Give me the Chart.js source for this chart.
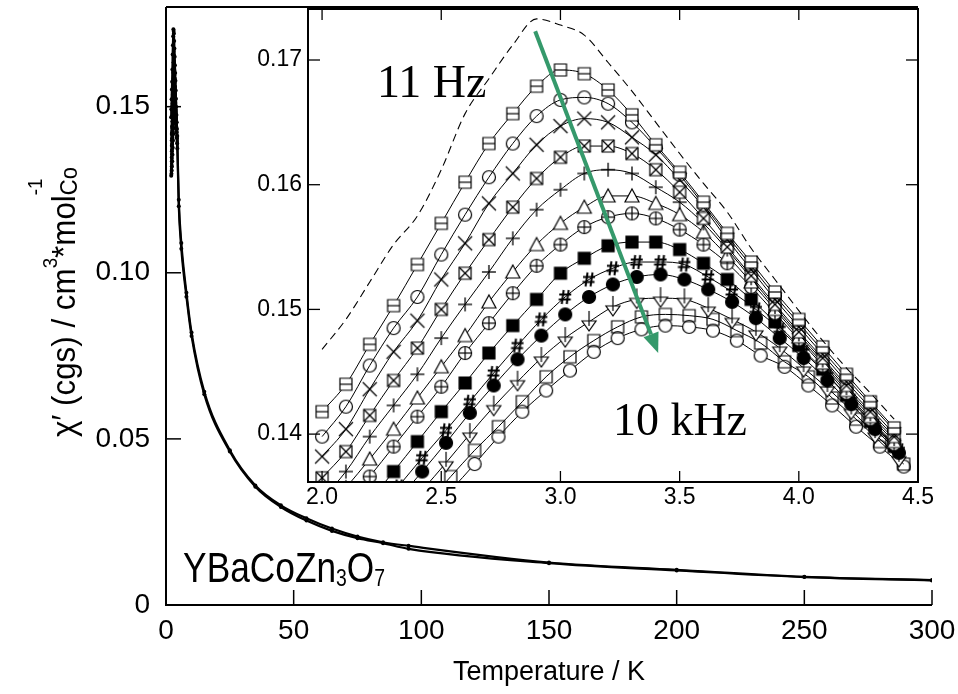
<!DOCTYPE html>
<html lang="en">
<head>
<meta charset="UTF-8" />
<title>YBaCoZn3O7 - chi' vs T</title>
<script src="https://cdn.jsdelivr.net/npm/chart.js"></script>
<style>
    body {
        margin: 0;
        background: #fff;
    }

    .wrap {
        position: relative;
        width: 958px;
        height: 694px;
    }

    #main {
        position: absolute;
        left: 0;
        top: 0;
    }

    #inset {
        position: absolute;
        left: 230px;
        top: 0;
    }
</style>
</head>
<body>
<div class="wrap">
    <canvas id="main" width="958" height="694"></canvas>
    <canvas id="inset" width="720" height="530"></canvas>
</div>

<script>
    // temperatures of the inset (K); the lower curves were taken a bit later
    const tInset  = [2.0, 2.1, 2.2, 2.3, 2.4, 2.5, 2.6, 2.7, 2.8, 2.9, 3.0, 3.1, 3.2, 3.3, 3.4, 3.5, 3.6, 3.7, 3.8, 3.9, 4.0, 4.1, 4.2, 4.3, 4.4];
    const tInsetB = [2.02, 2.12, 2.22, 2.32, 2.42, 2.52, 2.62, 2.72, 2.82, 2.92, 3.02, 3.12, 3.22, 3.32, 3.42, 3.52, 3.62, 3.72, 3.82, 3.92, 4.02, 4.12, 4.22, 4.32, 4.42];
    const tInsetC = [2.04, 2.14, 2.24, 2.34, 2.44, 2.54, 2.64, 2.74, 2.84, 2.94, 3.04, 3.14, 3.24, 3.34, 3.44, 3.54, 3.64, 3.74, 3.84, 3.94, 4.04, 4.14, 4.24, 4.34, 4.44];

    // chi' (cgs) per frequency, from 11 Hz (top) to 10 kHz (bottom)
    const chi11Hz  = [0.1468, 0.1492, 0.1522, 0.1552, 0.1575, 0.1612, 0.1657, 0.1685, 0.1712, 0.1733, 0.1728, 0.1720, 0.1698, 0.1675, 0.1650, 0.1625, 0.1601, 0.1578, 0.1549, 0.1524, 0.1499, 0.1475, 0.1453, 0.1433, 0.1412];
    const chiSqH   = [0.1418, 0.1440, 0.1472, 0.1503, 0.1536, 0.1569, 0.1602, 0.1633, 0.1657, 0.1679, 0.1692, 0.1689, 0.1676, 0.1656, 0.1632, 0.1610, 0.1586, 0.1561, 0.1538, 0.1514, 0.1492, 0.1470, 0.1448, 0.1426, 0.1405];
    const chiCirH  = [0.1398, 0.1422, 0.1455, 0.1485, 0.1510, 0.1544, 0.1576, 0.1606, 0.1633, 0.1655, 0.1668, 0.1670, 0.1665, 0.1650, 0.1630, 0.1608, 0.1584, 0.1559, 0.1535, 0.1511, 0.1489, 0.1467, 0.1445, 0.1424, 0.1403];
    const chiCross = [0.1382, 0.1404, 0.1436, 0.1466, 0.1491, 0.1524, 0.1553, 0.1585, 0.1609, 0.1632, 0.1647, 0.1653, 0.1650, 0.1638, 0.1624, 0.1604, 0.1582, 0.1556, 0.1532, 0.1508, 0.1486, 0.1464, 0.1442, 0.1421, 0.1400];
    const chiSqX   = [0.1365, 0.1386, 0.1415, 0.1443, 0.1469, 0.1500, 0.1529, 0.1556, 0.1582, 0.1605, 0.1622, 0.1631, 0.1631, 0.1625, 0.1612, 0.1594, 0.1573, 0.1550, 0.1527, 0.1504, 0.1482, 0.1461, 0.1439, 0.1418, 0.1398];
    const chiPlus  = [0.1348, 0.1370, 0.1398, 0.1423, 0.1448, 0.1477, 0.1504, 0.1530, 0.1557, 0.1580, 0.1596, 0.1609, 0.1612, 0.1609, 0.1598, 0.1586, 0.1569, 0.1548, 0.1525, 0.1502, 0.1480, 0.1459, 0.1437, 0.1416, 0.1396];
    const chiTri   = [0.1335, 0.1357, 0.1380, 0.1404, 0.1429, 0.1454, 0.1479, 0.1506, 0.1530, 0.1552, 0.1569, 0.1582, 0.1591, 0.1591, 0.1585, 0.1576, 0.1562, 0.1543, 0.1522, 0.1500, 0.1478, 0.1457, 0.1435, 0.1414, 0.1394];
    const chiCirP  = [0.1320, 0.1343, 0.1366, 0.1390, 0.1414, 0.1438, 0.1465, 0.1489, 0.1513, 0.1535, 0.1552, 0.1566, 0.1574, 0.1577, 0.1573, 0.1564, 0.1552, 0.1537, 0.1518, 0.1497, 0.1476, 0.1455, 0.1433, 0.1412, 0.1392];
    const chiSqF   = [0.1312, 0.1328, 0.1347, 0.1370, 0.1394, 0.1418, 0.1441, 0.1465, 0.1487, 0.1508, 0.1529, 0.1541, 0.1551, 0.1554, 0.1554, 0.1548, 0.1537, 0.1524, 0.1508, 0.1490, 0.1471, 0.1452, 0.1431, 0.1410, 0.1390];
    const chiHash  = [0.1305, 0.1318, 0.1336, 0.1358, 0.1381, 0.1403, 0.1426, 0.1449, 0.1471, 0.1492, 0.1510, 0.1524, 0.1533, 0.1538, 0.1538, 0.1536, 0.1526, 0.1514, 0.1500, 0.1484, 0.1466, 0.1447, 0.1427, 0.1407, 0.1387];
    const chiCirF  = [0.1300, 0.1312, 0.1328, 0.1348, 0.1370, 0.1393, 0.1417, 0.1439, 0.1460, 0.1479, 0.1496, 0.1510, 0.1520, 0.1526, 0.1528, 0.1524, 0.1516, 0.1506, 0.1493, 0.1477, 0.1461, 0.1443, 0.1424, 0.1404, 0.1385];
    const chiTriD  = [0.1297, 0.1306, 0.1318, 0.1335, 0.1355, 0.1377, 0.1400, 0.1422, 0.1442, 0.1461, 0.1477, 0.1490, 0.1502, 0.1508, 0.1509, 0.1508, 0.1501, 0.1492, 0.1482, 0.1469, 0.1453, 0.1437, 0.1419, 0.1400, 0.1381];
    const chiSq    = [0.1295, 0.1302, 0.1312, 0.1327, 0.1345, 0.1366, 0.1387, 0.1406, 0.1426, 0.1446, 0.1462, 0.1475, 0.1486, 0.1494, 0.1496, 0.1495, 0.1492, 0.1483, 0.1473, 0.1458, 0.1446, 0.1429, 0.1412, 0.1394, 0.1376];
    const chi10kHz = [0.1292, 0.1298, 0.1308, 0.1320, 0.1336, 0.1355, 0.1376, 0.1398, 0.1418, 0.1435, 0.1451, 0.1466, 0.1477, 0.1484, 0.1487, 0.1486, 0.1483, 0.1475, 0.1463, 0.1454, 0.1439, 0.1423, 0.1406, 0.1390, 0.1374];

    // high temperature part of the main plot
    const tTail      = [5, 6, 8, 10, 15, 25, 35, 45, 55, 65, 75, 85, 95, 150, 200, 250, 300];
    const chiTail11  = [0.1220, 0.1090, 0.0940, 0.0820, 0.0642, 0.0466, 0.0360, 0.0300, 0.0261, 0.0230, 0.0206, 0.0189, 0.0178, 0.0128, 0.0106, 0.0085, 0.0075];
    const chiTail10k = [0.1200, 0.1072, 0.0928, 0.0810, 0.0634, 0.0462, 0.0356, 0.0295, 0.0254, 0.0223, 0.0201, 0.0186, 0.0169, 0.0126, 0.0104, 0.0084, 0.0074];

    // inset annotations (data coordinates of the inset)
    const labelLow  = { text: '11 Hz',  x: 2.23, y: 0.1670 };
    const labelHigh = { text: '10 kHz', x: 3.22, y: 0.1399 };
    const arrowFrom = { x: 2.894, y: 0.1723 };
    const arrowTo   = { x: 3.410, y: 0.1465 };

    // inset frame on the page
    const INSET = { left: 308, top: 9, right: 918, bottom: 482, canvasLeft: 230 };
    const ARROW_COR = '#35996b';

    const SANS = '"Liberation Sans", Arial, sans-serif';
    const SERIF = '"Liberation Serif", "Times New Roman", serif';

    function pts(ts, vs) {
        return ts.map((t, i) => ({ x: t, y: vs[i] }));
    }

    // marker glyphs for the inset
    function marcador(tipo) {
        const s = 24;
        const c = document.createElement('canvas');
        c.width = s;
        c.height = s;
        const g = c.getContext('2d');
        g.translate(s / 2, s / 2);
        g.strokeStyle = '#000';
        g.lineWidth = 1.2;
        const r = 6;
        const ln = (x1, y1, x2, y2) => { g.beginPath(); g.moveTo(x1, y1); g.lineTo(x2, y2); g.stroke(); };
        const quad = (cor) => { g.beginPath(); g.rect(-r, -r, 2 * r, 2 * r); if (cor) { g.fillStyle = cor; g.fill(); } g.stroke(); };
        const circ = (cor) => { g.beginPath(); g.arc(0, 0, r + 0.5, 0, Math.PI * 2); if (cor) { g.fillStyle = cor; g.fill(); } g.stroke(); };
        switch (tipo) {
            case 'sqH': quad('#fff'); ln(-r, 0, r, 0); break;
            case 'cirH': circ(null); break;
            case 'cross': g.lineWidth = 1.3; ln(-7, -7, 7, 7); ln(-7, 7, 7, -7); break;
            case 'sqX': quad('#fff'); ln(-r, -r, r, r); ln(-r, r, r, -r); break;
            case 'plus': g.lineWidth = 1.3; ln(-7, 0, 7, 0); ln(0, -7, 0, 7); break;
            case 'tri':
                g.beginPath(); g.moveTo(0, -r - 1); g.lineTo(r + 1, r); g.lineTo(-r - 1, r); g.closePath();
                g.fillStyle = '#fff'; g.fill(); g.stroke(); break;
            case 'cirP': circ('#fff'); ln(-r, 0, r, 0); ln(0, -r, 0, r); break;
            case 'sqF': quad('#000'); break;
            case 'hash':
                g.lineWidth = 2;
                ln(-1.5, -7, -3.5, 7); ln(3.5, -7, 1.5, 7); ln(-6, -2.5, 6, -2.5); ln(-6.5, 2.5, 5.5, 2.5); break;
            case 'cirF': circ('#000'); break;
            case 'triD':
                g.beginPath(); g.moveTo(-r - 1, -1); g.lineTo(r + 1, -1); g.lineTo(0, r + 3); g.closePath();
                g.fillStyle = '#fff'; g.fill(); g.stroke();
                ln(0, -11, 0, 4); break;
            case 'sq': quad(null); break;
            case 'cir': circ('#fff'); break;
        }
        return c;
    }

    const series = [
        { t: tInset,  v: chiSqH,   m: 'sqH' },
        { t: tInset,  v: chiCirH,  m: 'cirH' },
        { t: tInset,  v: chiCross, m: 'cross' },
        { t: tInset,  v: chiSqX,   m: 'sqX' },
        { t: tInset,  v: chiPlus,  m: 'plus' },
        { t: tInset,  v: chiTri,   m: 'tri' },
        { t: tInset,  v: chiCirP,  m: 'cirP' },
        { t: tInset,  v: chiSqF,   m: 'sqF' },
        { t: tInsetB, v: chiHash,  m: 'hash' },
        { t: tInsetB, v: chiCirF,  m: 'cirF' },
        { t: tInsetB, v: chiTriD,  m: 'triD' },
        { t: tInsetC, v: chiSq,    m: 'sq' },
        { t: tInsetC, v: chi10kHz, m: 'cir' }
    ];

    // rich text with super/subscripts (sx squeezes the text like a narrow face)
    function textoRico(ctx, partes, x0, y0, ang, sx) {
        ctx.save();
        ctx.translate(x0, y0);
        ctx.rotate(ang);
        ctx.scale(sx, 1);
        ctx.fillStyle = '#000';
        ctx.textAlign = 'left';
        ctx.textBaseline = 'alphabetic';
        let cx = 0, ini = 0;
        partes.forEach(p => {
            ctx.font = `${p.s}px ${SANS}`;
            const x = p.junto ? ini : cx;
            ctx.fillText(p.t, x, p.dy || 0);
            ini = x;
            cx = Math.max(cx, x + ctx.measureText(p.t).width);
        });
        ctx.restore();
    }

    function risco(ctx, x1, y1, x2, y2) {
        ctx.beginPath();
        ctx.moveTo(x1, y1);
        ctx.lineTo(x2, y2);
        ctx.stroke();
    }

    const isMult = (v, passo) => Math.abs(v / passo - Math.round(v / passo)) < 1e-6;

    // keep the plot box exactly where the axis widths put it
    function semPadding(s) {
        s.paddingTop = 0;
        s.paddingBottom = 0;
        s.paddingLeft = 0;
        s.paddingRight = 0;
    }

    // ---------------- main plot ----------------
    const molde = {
        borderColor: '#000',
        backgroundColor: '#000',
        pointBorderWidth: 0,
        cubicInterpolationMode: 'monotone',
        fill: false
    };

    const mainSets = [
        Object.assign({}, molde, { data: pts(tInset.concat(tTail), chi11Hz.concat(chiTail11)), borderWidth: 2.2, pointRadius: 2 }),
        Object.assign({}, molde, { data: pts(tInsetC.concat(tTail), chi10kHz.concat(chiTail10k)), borderWidth: 2.2, pointRadius: 2 })
    ];
    series.slice(0, -1).forEach(s => {
        mainSets.push(Object.assign({}, molde, { data: pts(s.t, s.v), borderWidth: 1.4, pointRadius: 1.3 }));
    });

    const mainMoldura = {
        id: 'mainMoldura',
        afterDatasetsDraw(chart) {
            const { ctx, chartArea: a, scales: { x, y } } = chart;
            ctx.save();
            ctx.strokeStyle = '#000';
            ctx.lineWidth = 1.5;
            x.ticks.forEach(t => {
                const px = x.getPixelForValue(t.value);
                risco(ctx, px, a.bottom, px, a.bottom - (isMult(t.value, 50) ? 15 : 8));
            });
            y.ticks.forEach(t => {
                const py = y.getPixelForValue(t.value);
                risco(ctx, a.left, py, a.left + (isMult(t.value, 0.05) ? 15 : 8), py);
            });
            ctx.lineWidth = 2;
            ctx.beginPath();
            ctx.moveTo(a.left, a.top);
            ctx.lineTo(a.left, a.bottom);
            ctx.lineTo(a.right, a.bottom);
            ctx.stroke();
            risco(ctx, a.left, a.top, INSET.right, a.top);

            // compound name
            const fs = 42;
            textoRico(ctx, [
                { t: 'YBaCoZn', s: fs },
                { t: '3', s: fs * 0.55, dy: 4 },
                { t: 'O', s: fs },
                { t: '7', s: fs * 0.55, dy: 4 }
            ], x.getPixelForValue(6.7), y.getPixelForValue(0.0069), 0, 0.84);

            // y title
            const ys = 33;
            textoRico(ctx, [
                { t: 'χ′ (cgs) / cm', s: ys },
                { t: '3', s: ys * 0.6, dy: -ys * 0.55 },
                { t: '*mol', s: ys },
                { t: '-1', s: ys * 0.6, dy: -ys * 1.0 },
                { t: 'Co', s: ys * 0.7, dy: ys * 0.05, junto: true }
            ], a.left - 91, 437, -Math.PI / 2, 0.95);
            ctx.restore();
        }
    };

    new Chart(document.getElementById('main'), {
        type: 'line',
        data: { datasets: mainSets },
        options: {
            responsive: false,
            animation: false,
            events: [],
            layout: { autoPadding: false, padding: { top: 7, right: 26, bottom: 0, left: 0 } },
            plugins: { legend: { display: false }, tooltip: { enabled: false } },
            scales: {
                x: {
                    type: 'linear',
                    min: 0,
                    max: 300,
                    afterFit: s => { s.height = 89; semPadding(s); },
                    grid: { display: false, drawTicks: false },
                    border: { display: false },
                    ticks: {
                        stepSize: 10,
                        maxTicksLimit: 1000,
                        autoSkip: false,
                        maxRotation: 0,
                        padding: 9,
                        color: '#000',
                        font: { family: SANS, size: 28 },
                        callback: v => isMult(v, 50) ? String(v) : null
                    },
                    title: {
                        display: true,
                        text: 'Temperature / K',
                        color: '#000',
                        font: { family: SANS, size: 27 },
                        padding: { top: 0, bottom: 5 }
                    }
                },
                y: {
                    type: 'linear',
                    min: 0,
                    max: 0.18,
                    afterFit: s => { s.width = 166; semPadding(s); },
                    grid: { display: false, drawTicks: false },
                    border: { display: false },
                    ticks: {
                        stepSize: 0.01,
                        maxTicksLimit: 1000,
                        autoSkip: false,
                        padding: 16,
                        color: '#000',
                        font: { family: SANS, size: 28 },
                        callback: v => isMult(v, 0.05) ? (v === 0 ? '0' : v.toFixed(2)) : null
                    }
                }
            }
        },
        plugins: [mainMoldura]
    });

    // ---------------- inset ----------------
    const insetSets = [
        {
            data: pts(tInset, chi11Hz),
            borderColor: '#000',
            borderWidth: 1.1,
            borderDash: [8, 5],
            pointRadius: 0,
            cubicInterpolationMode: 'monotone',
            fill: false
        }
    ];
    series.forEach(s => {
        insetSets.push({
            data: pts(s.t, s.v),
            borderColor: '#000',
            borderWidth: 1,
            pointStyle: marcador(s.m),
            pointRadius: 6,
            cubicInterpolationMode: 'monotone',
            fill: false
        });
    });

    const insetDeco = {
        id: 'insetDeco',
        beforeDatasetsDraw(chart) {
            const { ctx, chartArea: a } = chart;
            ctx.save();
            ctx.fillStyle = '#fff';
            ctx.fillRect(a.left, a.top, a.right - a.left, a.bottom - a.top);
            ctx.restore();
        },
        afterDatasetsDraw(chart) {
            const { ctx, chartArea: a, scales: { x, y } } = chart;
            ctx.save();
            ctx.strokeStyle = '#000';
            ctx.lineWidth = 1.3;
            x.ticks.forEach(t => {
                const px = x.getPixelForValue(t.value);
                const len = isMult(t.value, 0.5) ? 11 : 6;
                risco(ctx, px, a.bottom, px, a.bottom - len);
                risco(ctx, px, a.top, px, a.top + len);
            });
            y.ticks.forEach(t => {
                const py = y.getPixelForValue(t.value);
                const len = isMult(t.value, 0.01) ? 12 : 6;
                risco(ctx, a.left, py, a.left + len, py);
                risco(ctx, a.right, py, a.right - len, py);
            });
            ctx.lineWidth = 2;
            ctx.strokeRect(a.left, a.top, a.right - a.left, a.bottom - a.top);

            // frequency labels
            ctx.fillStyle = '#000';
            ctx.font = `46px ${SERIF}`;
            ctx.textAlign = 'left';
            ctx.textBaseline = 'alphabetic';
            [labelLow, labelHigh].forEach(l => {
                ctx.fillText(l.text, x.getPixelForValue(l.x), y.getPixelForValue(l.y));
            });

            // arrow
            const x0 = x.getPixelForValue(arrowFrom.x), y0 = y.getPixelForValue(arrowFrom.y);
            const x1 = x.getPixelForValue(arrowTo.x), y1 = y.getPixelForValue(arrowTo.y);
            const ang = Math.atan2(y1 - y0, x1 - x0);
            const cab = 20, meia = 8;
            const bx = x1 - cab * Math.cos(ang), by = y1 - cab * Math.sin(ang);
            ctx.strokeStyle = ARROW_COR;
            ctx.fillStyle = ARROW_COR;
            ctx.lineWidth = 4;
            risco(ctx, x0, y0, bx, by);
            ctx.beginPath();
            ctx.moveTo(x1, y1);
            ctx.lineTo(bx + meia * Math.sin(ang), by - meia * Math.cos(ang));
            ctx.lineTo(bx - meia * Math.sin(ang), by + meia * Math.cos(ang));
            ctx.closePath();
            ctx.fill();
            ctx.restore();
        }
    };

    new Chart(document.getElementById('inset'), {
        type: 'line',
        data: { datasets: insetSets },
        options: {
            responsive: false,
            animation: false,
            events: [],
            layout: { autoPadding: false, padding: { top: INSET.top, right: 720 - (INSET.right - INSET.canvasLeft), bottom: 0, left: 0 } },
            plugins: { legend: { display: false }, tooltip: { enabled: false } },
            scales: {
                x: {
                    type: 'linear',
                    min: 1.941,
                    max: 4.5,
                    afterFit: s => { s.height = 530 - INSET.bottom; semPadding(s); },
                    grid: { display: false, drawTicks: false },
                    border: { display: false },
                    ticks: {
                        stepSize: 0.1,
                        maxTicksLimit: 1000,
                        includeBounds: false,
                        autoSkip: false,
                        maxRotation: 0,
                        padding: 2,
                        color: '#000',
                        font: { family: SANS, size: 23 },
                        callback: v => isMult(v, 0.5) ? v.toFixed(1) : null
                    }
                },
                y: {
                    type: 'linear',
                    min: 0.13616,
                    max: 0.17409,
                    afterFit: s => { s.width = INSET.left - INSET.canvasLeft; semPadding(s); },
                    grid: { display: false, drawTicks: false },
                    border: { display: false },
                    ticks: {
                        stepSize: 0.002,
                        maxTicksLimit: 1000,
                        includeBounds: false,
                        autoSkip: false,
                        padding: 6,
                        color: '#000',
                        font: { family: SANS, size: 23 },
                        callback: v => isMult(v, 0.01) ? v.toFixed(2) : null
                    }
                }
            }
        },
        plugins: [insetDeco]
    });
</script>
</body>
</html>
